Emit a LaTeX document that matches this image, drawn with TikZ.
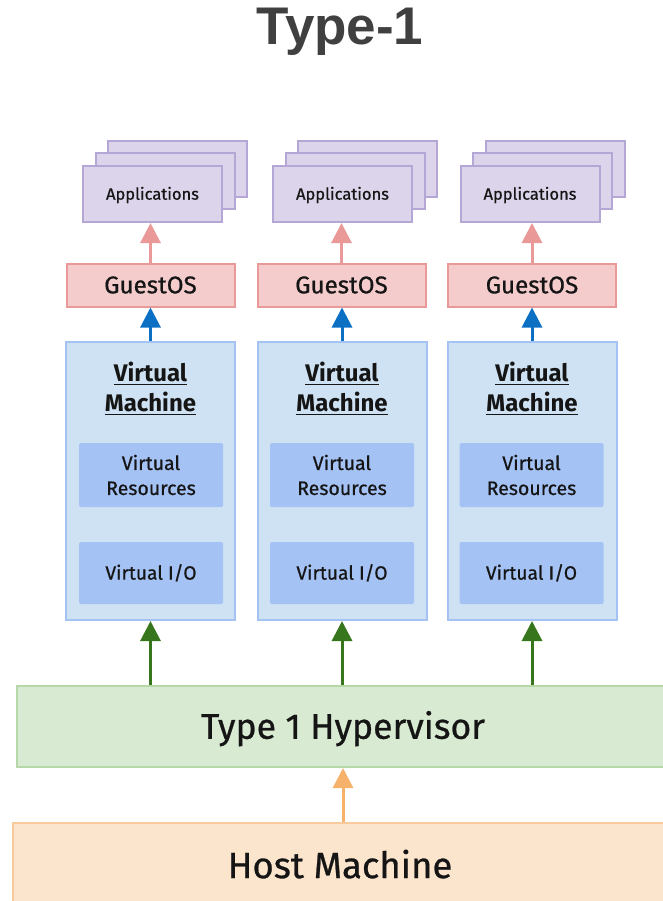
\documentclass[tikz,border=0pt]{standalone}
\usepackage{fontspec}
\setmainfont{Fira Sans}[UprightFeatures={FakeBold=0.7}]
\newfontfamily\titlefont{Liberation Sans}
\usetikzlibrary{arrows.meta}

\definecolor{appfill}{HTML}{DCD4EA}
\definecolor{appline}{HTML}{B4A7D6}
\definecolor{osfill}{HTML}{F4CCCC}
\definecolor{osline}{HTML}{EA9999}
\definecolor{vmfill}{HTML}{CFE2F3}
\definecolor{vmline}{HTML}{A4C2F4}
\definecolor{hypfill}{HTML}{D9EAD3}
\definecolor{hypline}{HTML}{B6D7A8}
\definecolor{hostfill}{HTML}{FCE5CD}
\definecolor{hostline}{HTML}{F9CB9C}
\definecolor{bluearrow}{HTML}{0B70C4}
\definecolor{greenarrow}{HTML}{38761D}
\definecolor{orangearrow}{HTML}{F6B26B}
\definecolor{titlegray}{HTML}{404040}
\definecolor{ink}{HTML}{151515}

% underlined heading word
\newcommand\vmhead[1]{\setbox0\hbox{#1}\rlap{\rule[-3.5pt]{\wd0}{1.6pt}}\box0}

\tikzset{
  box/.style={draw, line width=2pt, inner sep=0pt, text=ink},
  appbox/.style={box, draw=appline, fill=appfill, minimum width=139pt, minimum height=56pt,
    font=\fontsize{16.5}{20}\selectfont, text height=11.4pt, text depth=0pt},
  osbox/.style={box, draw=osline, fill=osfill, minimum width=168pt, minimum height=43pt,
    font=\fontsize{24.2}{28}\selectfont, text height=16.7pt, text depth=0pt},
  vmbox/.style={box, draw=vmline, fill=vmfill, minimum width=169pt, minimum height=278pt},
  innerbox/.style={fill=vmline, rounded corners=1.5pt, inner sep=0pt, minimum width=144pt,
    align=center, text=ink},
  vmtitle/.style={anchor=base, inner sep=0pt, text=ink, font=\bfseries\fontsize{24}{26}\selectfont},
  arr/.style={line width=3pt, -{Triangle[width=20pt,length=20pt]}},
}

\begin{document}
\begin{tikzpicture}[x=1pt,y=-1pt]
\useasboundingbox (0,0) rectangle (662,901);

% title
\node[anchor=base, inner sep=0pt, text=titlegray, font=\titlefont\bfseries\fontsize{53}{57}\selectfont]
  (title) at (340,45) {Type-1};

% one column per virtual machine
\foreach \i/\ax/\gx/\vx/\rx in {1/152.5/150.5/150.5/151, 2/342.5/341.5/342/342, 3/530/532/532/531.5}{
  % stacked application windows
  \node[appbox] (appc\i) at (\ax+25,169) {};
  \node[appbox] (appb\i) at (\ax+12.5,181.5) {};
  \node[appbox] (app\i) at (\ax,194) {Applications};
  % guest operating system
  \node[osbox] (guest\i) at (\gx,285) {GuestOS};
  % virtual machine
  \node[vmbox] (vm\i) at (\vx,481) {};
  \node[vmtitle] (vmt\i) at (\vx,381.7) {\vmhead{Virtual}};
  \node[vmtitle] (vmm\i) at (\vx,411.7) {\vmhead{Machine}};
  \node[innerbox, minimum height=64pt, font=\fontsize{19.5}{25}\selectfont]
    (res\i) at (\rx,475) {Virtual\\Resources};
  \node[innerbox, minimum height=62pt, font=\fontsize{19.2}{24}\selectfont,
    text height=13.2pt, text depth=0pt] (io\i) at (\rx,573) {Virtual I/O};
}

% hypervisor and host layers (running past the right and bottom edges)
\node[box, draw=hypline, fill=hypfill, minimum width=652pt, minimum height=81pt,
  font=\fontsize{35.6}{40}\selectfont, text height=24.5pt, text depth=0pt]
  (hyp) at (343,726.5) {Type 1 Hypervisor};
\node[box, draw=hostline, fill=hostfill, minimum width=654pt, minimum height=85pt,
  font=\fontsize{36.5}{42}\selectfont, text height=25.2pt, text depth=0pt]
  (host) at (340,865.5) {Host Machine};

% connectors
\foreach \i in {1,2,3}{
  \draw[arr, draw=osline, fill=osline] (guest\i.north) -- (guest\i.north |- app\i.south);
  \draw[arr, draw=bluearrow, fill=bluearrow] (vm\i.north) -- (vm\i.north |- guest\i.south);
  \draw[arr, draw=greenarrow, fill=greenarrow] (vm\i.south |- hyp.north) -- (vm\i.south);
}
\draw[arr, draw=orangearrow, fill=orangearrow] (hyp.south |- host.north) -- (hyp.south);
\end{tikzpicture}
\end{document}
